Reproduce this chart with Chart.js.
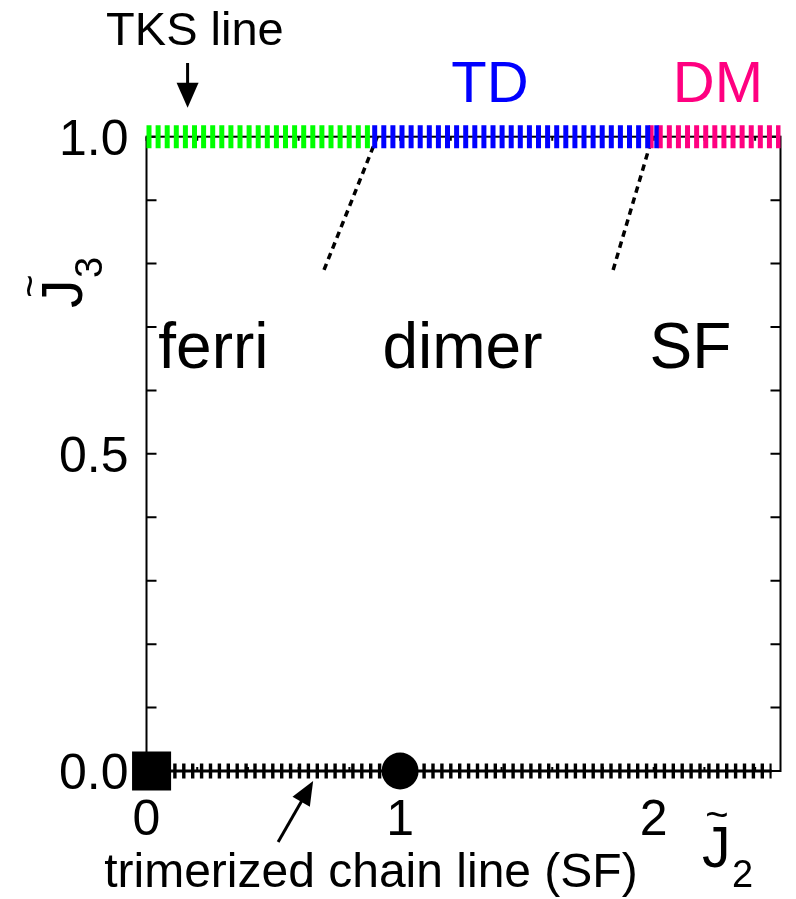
<!DOCTYPE html>
<html>
<head>
<meta charset="utf-8">
<script src="https://cdn.jsdelivr.net/npm/chart.js@4/dist/chart.umd.min.js"></script>
<style>
  html, body { margin: 0; padding: 0; background: #fff; overflow: hidden; }
  canvas { display: block; }
</style>
</head>
<body>
<canvas id="phase" width="796" height="899"></canvas>
<script>
// ---- phase diagram data (J2~ horizontal, J3~ vertical) ----
// TKS line (J3 = 1) split into its three ground-state segments
const tksFerri = [[0, 1], [0.89, 1]];
const tksDimer = [[0.89, 1], [2.02, 1]];
const tksDM    = [[1.98, 1], [2.5, 1]];
// trimerized chain line (J3 = 0)
const chainLine = [[0, 0], [2.465, 0]];
// dashed phase boundaries leaving the TKS line
const ferriDimerBoundary = [[0.70, 0.79], [0.91, 1.0]];
const dimerSFBoundary    = [[1.84, 0.79], [1.995, 1.0]];
// special points on the chain line
const squarePoint = [[0.02, 0]];
const circlePoint = [[1, 0]];

// axis ticks
const xMinorTicks = [0, 0.2, 0.4, 0.6, 0.8, 1.0, 1.2, 1.4, 1.6, 1.8, 2.0, 2.2, 2.4];
const yMinorTicks = [0, 0.1, 0.2, 0.3, 0.4, 0.5, 0.6, 0.7, 0.8, 0.9, 1.0];
const xTickValues = [0, 1, 2];
const xTickLabels = ['0', '1', '2'];
const yTickValues = [0, 0.5, 1];
const yTickLabels = ['0.0', '0.5', '1.0'];

// phase names
const regionNames = ['ferri', 'dimer', 'SF'];
const regionCenters = [0.264, 1.246, 2.145];
const tksPhaseNames = ['TD', 'DM'];
const tksPhaseCenters = [1.354, 2.253];

const FONT = '"Liberation Sans", Arial, Helvetica, sans-serif';
const GREEN = '#00ff00';
const BLUE = '#0000ff';
const MAGENTA = '#ff0080';

const toXY = arr => arr.map(([x, y]) => ({ x, y }));

function lineSet(data, color, width, dash, order) {
  return {
    data: toXY(data),
    borderColor: color,
    backgroundColor: color,
    borderWidth: width,
    borderDash: dash,
    borderCapStyle: 'butt',
    pointRadius: 0,
    pointHoverRadius: 0,
    fill: false,
    tension: 0,
    clip: false,
    order
  };
}

function markerSet(data, style, radius) {
  return {
    data: toXY(data),
    showLine: false,
    pointStyle: style,
    pointRadius: radius,
    pointHoverRadius: radius,
    pointBackgroundColor: '#000',
    pointBorderColor: '#000',
    pointBorderWidth: 0,
    clip: false,
    order: 0
  };
}

function arrow(ctx, x1, y1, x2, y2, headLen, headW, lw) {
  const ang = Math.atan2(y2 - y1, x2 - x1);
  const cos = Math.cos(ang), sin = Math.sin(ang);
  const bx = x2 - headLen * cos, by = y2 - headLen * sin;
  ctx.lineWidth = lw;
  ctx.beginPath();
  ctx.moveTo(x1, y1);
  ctx.lineTo(bx + cos, by + sin);
  ctx.stroke();
  ctx.beginPath();
  ctx.moveTo(x2, y2);
  ctx.lineTo(bx - sin * headW / 2, by + cos * headW / 2);
  ctx.lineTo(bx + sin * headW / 2, by - cos * headW / 2);
  ctx.closePath();
  ctx.fill();
}

// J with a tilde and a numeric subscript, drawn in its own (possibly rotated) frame
function tildeJ(ctx, x, y, rot, sub, tildeDx) {
  ctx.save();
  ctx.translate(x, y);
  ctx.rotate(rot);
  ctx.fillStyle = '#000';
  ctx.textAlign = 'left';
  ctx.textBaseline = 'alphabetic';
  ctx.font = '57px ' + FONT;
  ctx.fillText('J', 0, 0);
  ctx.font = '38px ' + FONT;
  ctx.fillText(sub, 30, 20);
  ctx.textAlign = 'center';
  ctx.font = '40px ' + FONT;
  ctx.fillText('~', tildeDx, -39);
  ctx.restore();
}

const decorations = {
  id: 'decorations',
  beforeDatasetsDraw(chart) {
    const { ctx, chartArea: a, scales: { x, y } } = chart;
    ctx.save();
    ctx.strokeStyle = '#000';
    ctx.lineWidth = 2;
    ctx.strokeRect(a.left, a.top, a.right - a.left, a.bottom - a.top);
    ctx.beginPath();
    yMinorTicks.forEach(v => {
      const p = y.getPixelForValue(v);
      ctx.moveTo(a.left, p); ctx.lineTo(a.left + 10, p);
      ctx.moveTo(a.right, p); ctx.lineTo(a.right - 10, p);
    });
    xMinorTicks.forEach(v => {
      const p = x.getPixelForValue(v);
      ctx.moveTo(p, a.top); ctx.lineTo(p, a.top + 4);
      ctx.moveTo(p, a.bottom); ctx.lineTo(p, a.bottom - 4);
    });
    ctx.stroke();
    ctx.restore();
  },
  afterDatasetsDraw(chart) {
    const { ctx, chartArea: a, scales: { x, y } } = chart;
    ctx.save();
    ctx.fillStyle = '#000';
    ctx.strokeStyle = '#000';

    // tick labels
    ctx.font = '50px ' + FONT;
    ctx.textBaseline = 'alphabetic';
    ctx.textAlign = 'right';
    yTickValues.forEach((v, i) => {
      ctx.fillText(yTickLabels[i], a.left - 18, y.getPixelForValue(v) + 18);
    });
    ctx.textAlign = 'center';
    xTickValues.forEach((v, i) => {
      ctx.fillText(xTickLabels[i], x.getPixelForValue(v), a.bottom + 64);
    });

    // phase names inside the diagram
    ctx.font = '64px ' + FONT;
    const yRegion = y.getPixelForValue(0.635);
    regionNames.forEach((t, i) => {
      ctx.fillText(t, x.getPixelForValue(regionCenters[i]), yRegion);
    });

    // phase names above the TKS line
    ctx.font = '58px ' + FONT;
    const yTop = a.top - 35;
    [BLUE, MAGENTA].forEach((c, i) => {
      ctx.fillStyle = c;
      ctx.fillText(tksPhaseNames[i], x.getPixelForValue(tksPhaseCenters[i]), yTop);
    });
    ctx.fillStyle = '#000';

    // TKS line annotation
    ctx.font = '47px ' + FONT;
    ctx.fillText('TKS line', x.getPixelForValue(0.191), 45);
    const ax = x.getPixelForValue(0.162);
    arrow(ctx, ax, 63, ax, a.top - 29, 25, 22, 3);

    // trimerized chain annotation
    ctx.font = '48px ' + FONT;
    ctx.fillText('trimerized chain line (SF)', x.getPixelForValue(0.885), a.bottom + 116);
    const tx = x.getPixelForValue(0.657), ty = y.getPixelForValue(0) + 10;
    arrow(ctx, tx - 35, ty + 61, tx, ty, 24, 20, 3);

    // axis titles
    tildeJ(ctx, x.getPixelForValue(2.19), a.bottom + 96, 0, '2', 15);
    tildeJ(ctx, 82, 308, -Math.PI / 2, '3', 22);

    ctx.restore();
  }
};

new Chart(document.getElementById('phase'), {
  type: 'line',
  data: {
    datasets: [
      markerSet(squarePoint, 'rect', 27.6),
      markerSet(circlePoint, 'circle', 18.5),
      lineSet(chainLine, '#000', 15, [3.4, 5.5], 1),
      lineSet(chainLine, '#000', 3, [], 1),
      lineSet(tksFerri, GREEN, 23, [5, 4.1], 2),
      lineSet(tksDimer, BLUE, 23, [5, 4.1], 2),
      lineSet(tksDM, MAGENTA, 23, [5, 4.1], 3),
      lineSet(ferriDimerBoundary, '#000', 3.5, [6.5, 5], 4),
      lineSet(dimerSFBoundary, '#000', 3.5, [6.5, 5], 4)
    ]
  },
  options: {
    responsive: false,
    devicePixelRatio: 1,
    animation: false,
    events: [],
    layout: { autoPadding: false, padding: { left: 146.5, right: 15.5, top: 136.7, bottom: 128 } },
    plugins: { legend: { display: false }, tooltip: { enabled: false } },
    scales: {
      x: { type: 'linear', min: 0, max: 2.5, display: false },
      y: { type: 'linear', min: 0, max: 1, display: false }
    }
  },
  plugins: [decorations]
});
</script>
</body>
</html>
